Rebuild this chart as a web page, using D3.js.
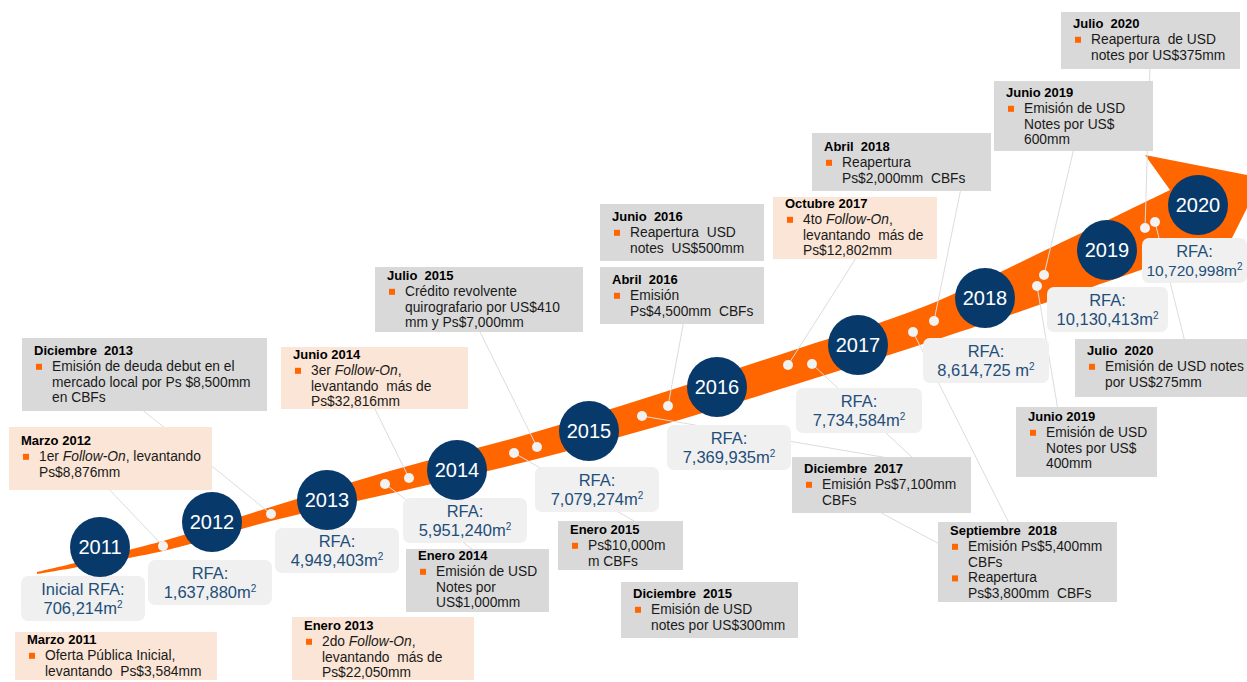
<!DOCTYPE html>
<html>
<head>
<meta charset="utf-8">
<script src="https://cdn.jsdelivr.net/npm/d3@7"></script>
<style>
body{margin:0;background:#fff;}
svg{display:block;font-family:"Liberation Sans",Arial,sans-serif;}
text{white-space:pre;}
</style>
</head>
<body>
<svg id="chart" width="1247" height="682"></svg>
<script>
// ---- data ----
const years = [2011, 2012, 2013, 2014, 2015, 2016, 2017, 2018, 2019, 2020];
const rfaLabel = ["Inicial RFA:", "RFA:", "RFA:", "RFA:", "RFA:", "RFA:", "RFA:", "RFA:", "RFA:", "RFA:"];
const rfaValues = [706214, 1637880, 4949403, 5951240, 7079274, 7369935, 7734584, 8614725, 10130413, 10720998];

const eventDates = ["Marzo 2011", "Marzo 2012", "Enero 2013", "Diciembre  2013", "Enero 2014", "Junio 2014",
  "Enero 2015", "Julio  2015", "Diciembre  2015", "Abril  2016", "Junio  2016", "Octubre 2017",
  "Diciembre  2017", "Abril  2018", "Septiembre  2018", "Junio 2019", "Junio 2019", "Julio  2020", "Julio  2020"];
// equity = follow-on / IPO (peach), debt = gray
const eventKinds = ["equity", "equity", "equity", "debt", "debt", "equity",
  "debt", "debt", "debt", "debt", "debt", "equity",
  "debt", "debt", "debt", "debt", "debt", "debt", "debt"];
// each event: list of bullets, each bullet: list of lines (*...* = italic)
const eventText = [
  [["Oferta Pública Inicial,", "levantando  Ps$3,584mm"]],
  [["1er *Follow-On*, levantando", "Ps$8,876mm"]],
  [["2do *Follow-On*,", "levantando  más de", "Ps$22,050mm"]],
  [["Emisión de deuda debut en el", "mercado local por Ps $8,500mm", "en CBFs"]],
  [["Emisión de USD", "Notes por", "US$1,000mm"]],
  [["3er *Follow-On*,", "levantando  más de", "Ps$32,816mm"]],
  [["Ps$10,000m", "m CBFs"]],
  [["Crédito revolvente", "quirografario por US$410", "mm y Ps$7,000mm"]],
  [["Emisión de USD", "notes por US$300mm"]],
  [["Emisión", "Ps$4,500mm  CBFs"]],
  [["Reapertura  USD", "notes  US$500mm"]],
  [["4to *Follow-On*,", "levantando  más de", "Ps$12,802mm"]],
  [["Emisión Ps$7,100mm", "CBFs"]],
  [["Reapertura", "Ps$2,000mm  CBFs"]],
  [["Emisión Ps$5,400mm", "CBFs"], ["Reapertura", "Ps$3,800mm  CBFs"]],
  [["Emisión de USD", "Notes por US$", "600mm"]],
  [["Emisión de USD", "Notes por US$", "400mm"]],
  [["Reapertura  de USD", "notes por US$375mm"]],
  [["Emisión de USD notes", "por US$275mm"]]
];

// ---- layout ----
const ORANGE = "#ff6600", NAVY = "#073a6b", BLUETXT = "#1f4e79";
const yearPos = [[100,547],[212,522],[327,500],[457,470],[589,431],[717,387],[858,345],[985,298],[1107,250],[1198,205]];
// x, y, width
const rfaBoxPos = [[21,576,124],[148,560,124],[275,528,124],[403,498,124],[535,467,124],[667,425,124],
  [796,388,126],[923,338,126],[1047,287,121],[1142,238,105]];
// x, y, w, h, title baseline
const eventBoxPos = [
  [15,632,202,48,644], [9,427,203,63,445], [292,617,182,63,630], [22,338,245,73,355],
  [406,549,143,63,560], [281,347,187,62,359], [558,521,125,49,534], [375,267,208,65,280],
  [621,582,177,56,598], [600,267,164,57,284], [600,204,164,57,221], [773,197,164,62,208],
  [792,457,179,56,473], [812,133,179,58,151], [938,522,179,80,535], [994,81,159,70,97],
  [1016,407,141,70,421], [1061,12,179,57,28], [1075,339,172,58,355]
];
const dotPos = [[163,546],[271,514],[385,484],[409,478],[514,453],[537,447],[642,416],[668,406],
  [788,365],[812,364],[913,332],[934,321],[1037,286],[1044,275],[1145,228],[1155,222]];
const leaderEnds = [[105,485],[140,408],[480,555],[373,405],[650,530],[478,328],[900,460],[684,320],
  [858,255],[915,460],[1010,525],[961,188],[1058,410],[1074,148],[1150,65],[1185,342]];
const extraLeaders = [[[872,508],[945,547]]];
const bandTop = [[37,572],[163,541],[271,507],[397,469],[525,435],[655,395],[800,348],[923,307],[1050,248],[1170,190]];
const bandBottom = [[37,574],[163,551],[271,521],[397,492],[525,462],[655,427],[800,383],[923,344],[1083,290],[1232,238]];
const arrowHead = [[1262,178],[1145,155],[1170,190]];

const svg = d3.select("#chart");

// band
const edge = d3.line().curve(d3.curveCatmullRom.alpha(0.5));
const bandD = edge(bandBottom) + "L" + arrowHead.map(p => p.join(",")).join("L")
  + edge(bandTop.slice().reverse()).replace(/^M/, "L") + "Z";
svg.append("path").attr("d", bandD).attr("fill", ORANGE);

// leader lines
const lg = svg.append("g").attr("stroke", "#dcdcdc").attr("stroke-width", 1);
lg.selectAll("line.lead").data(leaderEnds).join("line").attr("class", "lead")
  .attr("x1", (d, i) => dotPos[i][0]).attr("y1", (d, i) => dotPos[i][1])
  .attr("x2", d => d[0]).attr("y2", d => d[1]);
lg.selectAll("line.extra").data(extraLeaders).join("line").attr("class", "extra")
  .attr("x1", d => d[0][0]).attr("y1", d => d[0][1])
  .attr("x2", d => d[1][0]).attr("y2", d => d[1][1]);

// RFA boxes
const fmt = d3.format(",");
const rg = svg.append("g").selectAll("g").data(years).join("g")
  .attr("transform", (d, i) => `translate(${rfaBoxPos[i][0]},${rfaBoxPos[i][1]})`);
rg.append("rect").attr("width", (d, i) => rfaBoxPos[i][2]).attr("height", 45).attr("rx", 7).attr("fill", "#f0f0f0");
rg.append("text").attr("x", (d, i) => rfaBoxPos[i][2] / 2).attr("y", 19).attr("text-anchor", "middle")
  .attr("font-size", 16.5).attr("fill", BLUETXT).text((d, i) => rfaLabel[i]);
const t2 = rg.append("text").attr("x", (d, i) => rfaBoxPos[i][2] / 2).attr("y", 38).attr("text-anchor", "middle")
  .attr("font-size", (d, i) => i === 9 ? 15.5 : 16.5).attr("fill", BLUETXT);
t2.append("tspan").text((d, i) => fmt(rfaValues[i]) + (d === 2018 ? " m" : "m"));
t2.append("tspan").attr("font-size", 10).attr("dy", -6).text("2");

// dots
svg.append("g").selectAll("circle").data(dotPos).join("circle")
  .attr("cx", d => d[0]).attr("cy", d => d[1]).attr("r", 5).attr("fill", "#f2f2f2");

// year circles
const yg = svg.append("g").selectAll("g").data(years).join("g")
  .attr("transform", (d, i) => `translate(${yearPos[i][0]},${yearPos[i][1]})`);
yg.append("circle").attr("r", 30).attr("fill", NAVY);
yg.append("text").attr("text-anchor", "middle").attr("dy", "0.36em")
  .attr("font-size", 20).attr("fill", "#fff").text(d => d);

// event boxes
const eg = svg.append("g").selectAll("g").data(eventDates).join("g");
eg.each(function (date, i) {
  const g = d3.select(this);
  const [x, y, w, h, ty] = eventBoxPos[i];
  g.append("rect").attr("x", x).attr("y", y).attr("width", w).attr("height", h)
    .attr("fill", eventKinds[i] === "equity" ? "#fbe5d6" : "#d9d9d9");
  g.append("text").attr("x", x + 12).attr("y", ty).attr("font-size", 13)
    .attr("font-weight", "bold").attr("fill", "#000").text(date);
  let line = 0;
  eventText[i].forEach(bullet => {
    bullet.forEach((txt, k) => {
      line++;
      const by = ty + 15.8 * line;
      if (k === 0) {
        g.append("rect").attr("x", x + 14).attr("y", by - 7).attr("width", 6).attr("height", 6)
          .attr("fill", ORANGE);
      }
      const t = g.append("text").attr("x", x + 30).attr("y", by).attr("font-size", 13.8).attr("fill", "#1a1a1a");
      txt.split("*").forEach((part, j) => {
        if (part) t.append("tspan").attr("font-style", j % 2 ? "italic" : "normal").text(part);
      });
    });
  });
});
</script>
</body>
</html>
